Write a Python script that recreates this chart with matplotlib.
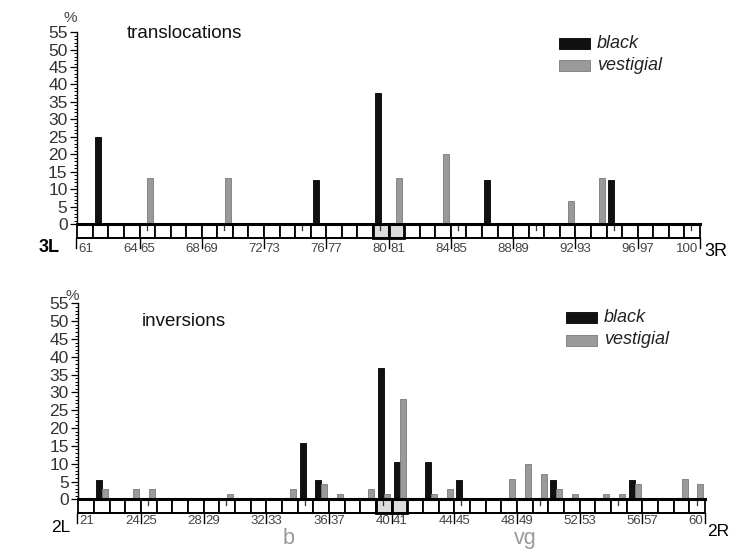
import numpy as np
import matplotlib
matplotlib.use('Agg')
import matplotlib.pyplot as plt
from matplotlib.patches import Rectangle

plt.rcParams['font.family'] = ['Liberation Sans', 'DejaVu Sans']

# translocations, chromosome 3 (divisions 61-100)
tr_divs = list(range(61, 101))
tr_black_div = [62, 76, 80, 87, 95]
tr_black_pct = [25.0, 12.5, 37.5, 12.5, 12.5]
tr_gray_div = [65, 70, 81, 84, 92, 94]
tr_gray_pct = [13.3, 13.3, 13.3, 20.0, 6.7, 13.3]
tr_pairs = [(64, 65), (68, 69), (72, 73), (76, 77), (80, 81), (84, 85), (88, 89), (92, 93), (96, 97)]
tr_marked = [80, 81]

# inversions, chromosome 2 (divisions 21-60)
inv_divs = list(range(21, 61))
inv_black_div = [22, 35, 36, 40, 41, 43, 45, 51, 56]
inv_black_pct = [5.3, 15.8, 5.3, 36.8, 10.5, 10.5, 5.3, 5.3, 5.3]
inv_gray_div = [22, 24, 25, 30, 34, 36, 37, 39, 40, 41, 43, 44, 48, 49, 50, 51, 52, 54, 55, 56, 59, 60]
inv_gray_pct = [2.8, 2.8, 2.8, 1.4, 2.8, 4.2, 1.4, 2.8, 1.4, 28.2, 1.4, 2.8, 5.6, 9.9, 7.0, 2.8,
                1.4, 1.4, 1.4, 4.2, 5.6, 4.2]
inv_pairs = [(24, 25), (28, 29), (32, 33), (36, 37), (40, 41), (44, 45), (48, 49), (52, 53), (56, 57)]
inv_marked = [40, 41]
genes = ['b', 'vg']
gene_pos = [34.4, 49.5]

W, H = 736, 557
fig = plt.figure(figsize=(W / 100, H / 100), dpi=100)


def px(x, y):
    return x / W, 1 - y / H


def draw_panel(ax, divs, bd, bp, gd, gp, pairs, marked, sh, ly):
    first, last = divs[0], divs[-1] + 1
    ax.set_facecolor('none')
    for s in ['top', 'right', 'bottom']:
        ax.spines[s].set_visible(False)
    ax.spines['left'].set_position(('data', first))
    ax.spines['left'].set_bounds(0, 55)
    ax.spines['left'].set_linewidth(1.0)
    ax.set_xticks([])
    ax.set_yticks(range(0, 56, 5))
    ax.set_yticks(range(0, 56), minor=True)
    ax.tick_params(axis='y', which='major', length=5, width=0.9, labelsize=12.5,
                   labelcolor='#333333', pad=2)
    ax.tick_params(axis='y', which='minor', length=2.5, width=0.7)

    ax.bar(np.array(bd) + 0.12, bp, width=0.38, align='edge', color='#111111',
           edgecolor='black', linewidth=0.6, zorder=3)
    ax.bar(np.array(gd) + 0.5, gp, width=0.38, align='edge', color='#9a9a9a',
           edgecolor='#7a7a7a', linewidth=0.6, zorder=3)

    # chromosome strip
    for d in divs:
        if d in marked:
            ax.add_patch(Rectangle((d, -sh), 1, sh, facecolor='#dcdcdc', edgecolor='black',
                                   linewidth=2.0, zorder=4))
        else:
            ax.add_patch(Rectangle((d, -sh), 1, sh, facecolor='white', edgecolor='black',
                                   linewidth=1.3, zorder=2))
        if d % 5 == 0:
            ax.plot([d + 0.45, d + 0.45], [-0.1 * sh, -0.45 * sh], color='#333333',
                    linewidth=0.9, zorder=4)
    ax.plot([first, last], [0, 0], color='black', linewidth=2.2, zorder=5)
    ax.plot([first, last], [-sh, -sh], color='black', linewidth=1.3, zorder=5)

    lab = dict(fontsize=9.5, color='#444444', va='center')
    for a, b in pairs:
        ax.plot([b, b], [-sh, -sh - 2.8], color='black', linewidth=1.0)
        ax.text(b - 0.08, ly, str(a), ha='right', **lab)
        ax.text(b + 0.08, ly, str(b), ha='left', **lab)
    ax.plot([first - 0.1, first - 0.1], [-sh, -sh - 2.8], color='black', linewidth=1.0)
    ax.text(first + 0.05, ly, str(divs[0]), ha='left', **lab)
    ax.plot([last, last], [-sh, -sh - 2.8], color='black', linewidth=1.0)
    ax.text(last - 0.1, ly, str(divs[-1]), ha='right', **lab)


def legend(x, y1, y2):
    for yy, c, e, t in [(y1, '#111111', 'black', 'black'), (y2, '#9a9a9a', '#7a7a7a', 'vestigial')]:
        x0, y0 = px(x, yy + 6)
        fig.patches.append(Rectangle((x0, y0), 31 / W, 11 / H, transform=fig.transFigure,
                                     facecolor=c, edgecolor=e, linewidth=0.6))
        fig.text(*px(x + 38, yy), t, style='italic', fontsize=13, color='#222222', va='center')


# top panel
ax1 = fig.add_axes([0, 1 - 265 / H, 1, 265 / H])
ax1.set_xlim(56.04, 103.31)
ax1.set_ylim(-11.75, 64.2)
draw_panel(ax1, tr_divs, tr_black_div, tr_black_pct, tr_gray_div, tr_gray_pct,
           tr_pairs, tr_marked, 4.0, -7.2)

# bottom panel
ax2 = fig.add_axes([0, 0, 1, 287 / H])
ax2.set_xlim(16.0, 62.97)
ax2.set_ylim(-16.2, 64.4)
draw_panel(ax2, inv_divs, inv_black_div, inv_black_pct, inv_gray_div, inv_gray_pct,
           inv_pairs, inv_marked, 3.8, -6.0)
for g, gx in zip(genes, gene_pos):
    ax2.text(gx, -12.6, g, fontsize=15.5, color='#999999', ha='center', va='baseline')

fig.text(*px(70, 18), '%', fontsize=11, color='#444444', ha='center', va='center')
fig.text(*px(72, 296), '%', fontsize=11, color='#444444', ha='center', va='center')
fig.text(*px(127, 33), 'translocations', fontsize=13.5, color='#111111', va='center')
fig.text(*px(142, 322), 'inversions', fontsize=13.5, color='#111111', va='center')
legend(559, 43, 65)
legend(566, 317, 340)

fig.text(*px(49, 248), '3L', fontsize=13, fontweight='bold', ha='center', va='center')
fig.text(*px(716, 251), '3R', fontsize=13, ha='center', va='center')
fig.text(*px(61, 528), '2L', fontsize=12.5, ha='center', va='center')
fig.text(*px(718, 531), '2R', fontsize=12.5, ha='center', va='center')

fig.savefig('out.png', dpi=100, facecolor='white')
